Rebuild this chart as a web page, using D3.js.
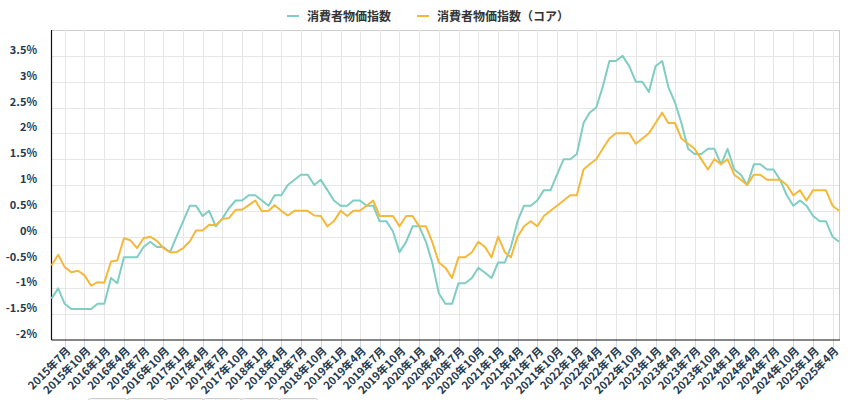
<!DOCTYPE html>
<html>
<head>
<meta charset="utf-8">
<script src="https://cdn.jsdelivr.net/npm/d3@7/dist/d3.min.js"></script>
<style>
  body { margin: 0; background: #fff; }
  svg { display: block; font-family: "Noto Sans CJK JP", "Noto Sans", sans-serif; }
</style>
</head>
<body>
<div id="chart"></div>
<script>
// 月次データ: 2015年5月 〜 2025年5月 (前年同月比, %)
const firstMonth = new Date(2015, 4, 1);
const lastMonth = new Date(2025, 4, 1);

const seriesNames = ["消費者物価指数", "消費者物価指数（コア）"];
const seriesColors = ["#7fcdc3", "#f4b93a"];

const cpi = [
  -1.2, -1.0, -1.3, -1.4, -1.4, -1.4, -1.4, -1.3, -1.3, -0.8, -0.9, -0.4,
  -0.4, -0.4, -0.2, -0.1, -0.2, -0.2, -0.3, 0.0, 0.3, 0.6, 0.6, 0.4,
  0.5, 0.2, 0.35, 0.55, 0.7, 0.7, 0.8, 0.8, 0.7, 0.6, 0.8, 0.8,
  1.0, 1.1, 1.2, 1.2, 1.0, 1.1, 0.9, 0.7, 0.6, 0.6, 0.7, 0.7,
  0.6, 0.6, 0.3, 0.3, 0.1, -0.3, -0.1, 0.2, 0.2, -0.1, -0.5, -1.1,
  -1.3, -1.3, -0.9, -0.9, -0.8, -0.6, -0.7, -0.8, -0.5, -0.5, -0.2, 0.3,
  0.6, 0.6, 0.7, 0.9, 0.9, 1.2, 1.5, 1.5, 1.6, 2.2, 2.4, 2.5,
  2.9, 3.4, 3.4, 3.5, 3.3, 3.0, 3.0, 2.8, 3.3, 3.4, 2.9, 2.6,
  2.2, 1.7, 1.6, 1.6, 1.7, 1.7, 1.4, 1.7, 1.3, 1.2, 1.0, 1.4,
  1.4, 1.3, 1.3, 1.1, 0.8, 0.6, 0.7, 0.6, 0.4, 0.3, 0.3, 0.0,
  -0.1
];

const cpiCore = [
  -0.56, -0.35, -0.59, -0.69, -0.66, -0.75, -0.95, -0.88, -0.89, -0.48, -0.46, -0.03,
  -0.07, -0.22, -0.03, 0.0, -0.08, -0.22, -0.3, -0.3, -0.22, -0.09, 0.12, 0.12,
  0.23, 0.22, 0.34, 0.36, 0.52, 0.52, 0.61, 0.7, 0.49, 0.5, 0.61, 0.5,
  0.41, 0.5, 0.5, 0.5, 0.41, 0.4, 0.2, 0.3, 0.5, 0.4, 0.5, 0.5,
  0.6, 0.7, 0.4, 0.4, 0.4, 0.2, 0.4, 0.4, 0.2, 0.2, -0.1, -0.5,
  -0.6, -0.8, -0.4, -0.4, -0.3, -0.1, -0.2, -0.4, 0.0, -0.3, -0.4, 0.0,
  0.2, 0.3, 0.2, 0.4, 0.5, 0.6, 0.7, 0.8, 0.8, 1.3, 1.4, 1.5,
  1.7, 1.9, 2.0, 2.0, 2.0, 1.8, 1.9, 2.0, 2.2, 2.4, 2.2, 2.2,
  1.9, 1.8, 1.7, 1.5, 1.3, 1.5, 1.4, 1.5, 1.2, 1.1, 1.0, 1.2,
  1.2, 1.1, 1.1, 1.1, 1.0, 0.8, 0.9, 0.7, 0.9, 0.9, 0.9, 0.6,
  0.5
];

const yTicks = [-2, -1.5, -1, -0.5, 0, 0.5, 1, 1.5, 2, 2.5, 3, 3.5];

const width = 850, height = 400;
const plotLeft = 51.5, plotRight = 839, plotTop = 30, plotBottom = 340;

const months = d3.timeMonth.range(firstMonth, d3.timeMonth.offset(lastMonth, 1));

const x = d3.scaleTime().domain([firstMonth, lastMonth]).range([plotLeft, plotRight]);
const y = d3.scaleLinear().domain([-2, 4]).range([plotBottom, plotTop]);

const svg = d3.select("#chart").append("svg")
  .attr("width", width)
  .attr("height", height);

const xTicks = x.ticks(d3.timeMonth.every(3));

// グリッド線
svg.append("g")
  .selectAll("line")
  .data(yTicks.slice(1).concat([4]))
  .enter()
  .append("line")
  .attr("x1", plotLeft).attr("x2", plotRight)
  .attr("y1", d => Math.round(y(d)) + 0.5)
  .attr("y2", d => Math.round(y(d)) + 0.5)
  .attr("stroke", d => d === 4 ? "#cccccc" : "#e6e6e6")
  .attr("stroke-width", 1);

svg.append("g")
  .selectAll("line")
  .data(xTicks)
  .enter()
  .append("line")
  .attr("x1", d => Math.round(x(d)) + 0.5)
  .attr("x2", d => Math.round(x(d)) + 0.5)
  .attr("y1", plotTop).attr("y2", plotBottom)
  .attr("stroke", "#e6e6e6");

// 右の枠線
svg.append("line")
  .attr("x1", plotRight + 0.5).attr("x2", plotRight + 0.5)
  .attr("y1", plotTop).attr("y2", plotBottom)
  .attr("stroke", "#cccccc");

// Y軸ラベル
svg.append("g")
  .selectAll("text")
  .data(yTicks)
  .enter()
  .append("text")
  .attr("x", 37)
  .attr("y", d => y(d) - 2)
  .attr("text-anchor", "end")
  .attr("font-size", 11)
  .attr("font-weight", "bold")
  .attr("fill", "#253a4e")
  .text(d => d + "%");

// X軸の目盛りとラベル
const xAxis = svg.append("g");

xAxis.selectAll("line")
  .data(xTicks)
  .enter()
  .append("line")
  .attr("x1", d => Math.round(x(d)) + 0.5)
  .attr("x2", d => Math.round(x(d)) + 0.5)
  .attr("y1", plotBottom).attr("y2", plotBottom + 10)
  .attr("stroke", "#ccd6eb");

xAxis.selectAll("text")
  .data(xTicks)
  .enter()
  .append("text")
  .attr("transform", d => `translate(${x(d) + 4}, ${plotBottom + 9}) rotate(-45)`)
  .attr("text-anchor", "end")
  .attr("dy", "0.35em")
  .attr("font-size", 11)
  .attr("font-weight", "bold")
  .attr("fill", "#253a4e")
  .text(d => `${d.getFullYear()}年${d.getMonth() + 1}月`);

// 軸線
svg.append("line")
  .attr("x1", plotLeft).attr("x2", plotLeft)
  .attr("y1", plotTop).attr("y2", plotBottom)
  .attr("stroke", "#111").attr("stroke-width", 1.2);

svg.append("line")
  .attr("x1", plotLeft).attr("x2", plotRight + 1)
  .attr("y1", plotBottom).attr("y2", plotBottom)
  .attr("stroke", "#111").attr("stroke-width", 1.2);

// 折れ線
const line = d3.line()
  .x((d, i) => x(months[i]))
  .y(d => y(d));

[cpi, cpiCore].forEach((values, k) => {
  svg.append("path")
    .datum(values)
    .attr("fill", "none")
    .attr("stroke", seriesColors[k])
    .attr("stroke-width", 2)
    .attr("stroke-linejoin", "round")
    .attr("d", line);
});

// 凡例
const legendX = [287, 417];
const legend = svg.append("g")
  .selectAll("g")
  .data(seriesNames)
  .enter()
  .append("g")
  .attr("transform", (d, i) => `translate(${legendX[i]}, 16)`);

legend.append("line")
  .attr("x1", 0).attr("x2", 12)
  .attr("stroke", (d, i) => seriesColors[i])
  .attr("stroke-width", 2);

legend.append("text")
  .attr("x", 20)
  .attr("y", 4.5)
  .attr("font-size", 12)
  .attr("font-weight", "bold")
  .attr("fill", "#333333")
  .text(d => d);

// 下部のボタン枠（画面下で切れている）
const buttonX = [88, 127, 165, 203, 241, 279];
svg.append("g")
  .selectAll("rect")
  .data(buttonX)
  .enter()
  .append("rect")
  .attr("x", d => d + 0.5)
  .attr("y", 398.5)
  .attr("width", 38)
  .attr("height", 20)
  .attr("rx", 2)
  .attr("fill", "#f7f7f7")
  .attr("stroke", "#cccccc");
</script>
</body>
</html>
